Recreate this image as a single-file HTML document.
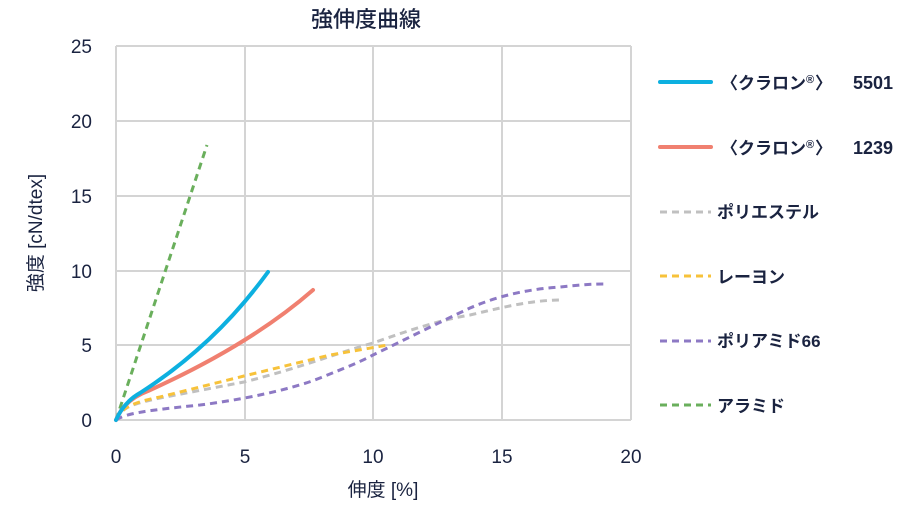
<!DOCTYPE html>
<html><head><meta charset="utf-8"><style>
body{margin:0;background:#fff;}
svg text{font-family:"Liberation Sans","Noto Sans CJK JP",sans-serif;fill:#1a2340;}
</style></head><body>
<svg width="906" height="508" viewBox="0 0 906 508" xmlns="http://www.w3.org/2000/svg">
<text x="366" y="27" font-size="22" text-anchor="middle" font-weight="500">強伸度曲線</text>
<g stroke="#d4d4d4" stroke-width="2" fill="none">
<line x1="116" y1="46" x2="631" y2="46"/>
<line x1="116" y1="121" x2="631" y2="121"/>
<line x1="116" y1="196" x2="631" y2="196"/>
<line x1="116" y1="271" x2="631" y2="271"/>
<line x1="116" y1="345" x2="631" y2="345"/>
<line x1="116" y1="420" x2="631" y2="420"/>
<line x1="116" y1="46" x2="116" y2="420"/>
<line x1="245" y1="46" x2="245" y2="420"/>
<line x1="373" y1="46" x2="373" y2="420"/>
<line x1="502" y1="46" x2="502" y2="420"/>
<line x1="631" y1="46" x2="631" y2="420"/>
</g>
<g font-size="19" text-anchor="end">
<text x="92" y="53">25</text><text x="92" y="128">20</text><text x="92" y="203">15</text>
<text x="92" y="278">10</text><text x="92" y="352">5</text><text x="92" y="427">0</text>
</g>
<g font-size="19" text-anchor="middle">
<text x="116" y="463">0</text><text x="245" y="463">5</text><text x="373" y="463">10</text>
<text x="502" y="463">15</text><text x="631" y="463">20</text>
</g>
<text x="383" y="496" font-size="19" text-anchor="middle">伸度 [%]</text>
<text transform="translate(42,233) rotate(-90)" font-size="19" text-anchor="middle">強度 [cN/dtex]</text>
<g fill="none" stroke-width="3" stroke-dasharray="7,5" stroke-linecap="butt">
<polyline stroke="#6aaf5c" points="116,420 207,145"/>
<path stroke="#c0c0c0" d="M116,420 C122,408 128,405 160,398 L244,382 C300,368 340,352 373,343 C410,330 440,320 470,315 C500,308 530,300 562,300"/>
<path stroke="#f7c23a" d="M116,420 C122,408 130,403 160,397 L244,376 L330,355 L388,345"/>
<path stroke="#8d79c4" d="M116,420 C125,414 140,411 200,405 C240,400 290,390 320,378 C345,368 360,362 373,355 C400,342 440,322 470,308 C500,295 530,289 560,287 C580,285 590,284 604,284"/>
</g>
<g fill="none" stroke-width="4" stroke-linecap="round">
<path stroke="#f08070" d="M116,420 Q124,400 148,391 Q250,345 313,290"/>
<path stroke="#0db0e0" d="M116,420 Q124,402 140,393 Q215,345 268,272"/>
</g>
<g stroke-width="4" fill="none">
<line x1="660" y1="82" x2="711" y2="82" stroke="#0db0e0" stroke-linecap="round"/>
<line x1="660" y1="147" x2="711" y2="147" stroke="#f08070" stroke-linecap="round"/>
<line x1="660" y1="212" x2="711" y2="212" stroke="#c0c0c0" stroke-dasharray="7,5" stroke-width="3"/>
<line x1="660" y1="276" x2="711" y2="276" stroke="#f7c23a" stroke-dasharray="7,5" stroke-width="3"/>
<line x1="660" y1="341" x2="711" y2="341" stroke="#8d79c4" stroke-dasharray="7,5" stroke-width="3"/>
<line x1="660" y1="405" x2="711" y2="405" stroke="#6aaf5c" stroke-dasharray="7,5" stroke-width="3"/>
</g>
<g font-size="17" font-weight="bold">
<text x="721" y="89">〈クラロン</text><text x="806" y="83" font-size="11">®</text><text x="815" y="89">〉</text><text x="853" y="89" font-size="18">5501</text>
<text x="721" y="154">〈クラロン</text><text x="806" y="148" font-size="11">®</text><text x="815" y="154">〉</text><text x="853" y="154" font-size="18">1239</text>
<text x="717" y="218">ポリエステル</text>
<text x="717" y="283">レーヨン</text>
<text x="717" y="347">ポリアミド66</text>
<text x="717" y="412">アラミド</text>
</g>
</svg>
</body></html>
